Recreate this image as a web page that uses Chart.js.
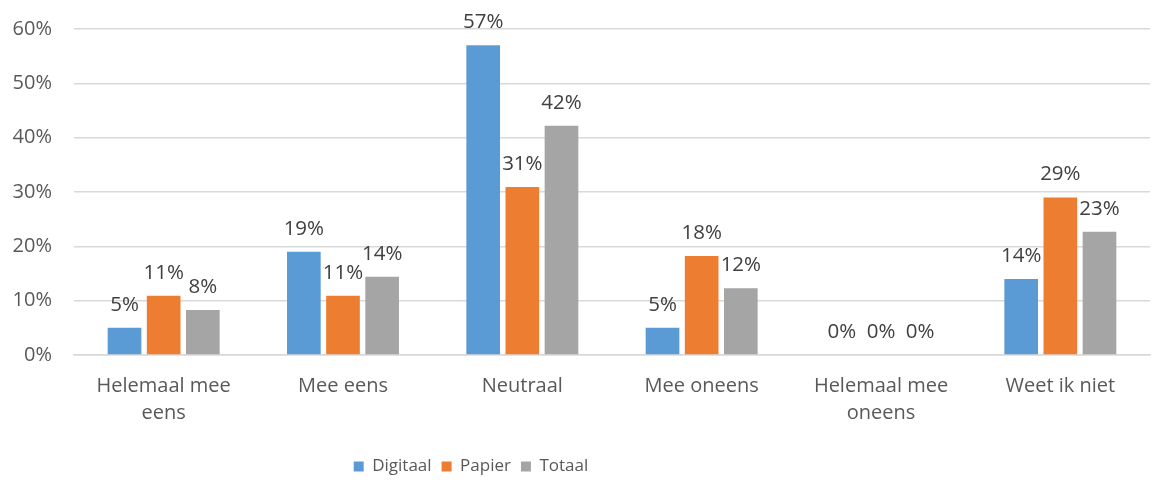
<!DOCTYPE html>
<html>
<head>
<meta charset="utf-8">
<script src="https://cdn.jsdelivr.net/npm/chart.js@4"></script>
<style>
  html, body { margin: 0; padding: 0; background: #fff; }
  #wrap { width: 1154px; height: 482px; }
</style>
</head>
<body>
<div id="wrap"><canvas id="chart" width="1154" height="482"></canvas></div>
<script>
const categories = [["Helemaal mee", "eens"], "Mee eens", "Neutraal", "Mee oneens", ["Helemaal mee", "oneens"], "Weet ik niet"];
const digitaal = [5, 19, 57, 5, 0, 14];
const papier = [10.9, 10.9, 30.9, 18.2, 0, 29];
const totaal = [8.3, 14.4, 42.2, 12.3, 0, 22.7];
const yTicks = [0, 10, 20, 30, 40, 50, 60];

const fontFamily = "'Open Sans', 'DejaVu Sans', sans-serif";
const textColor = "#595959";

// labels above each bar
const barLabels = {
    id: "barLabels",
    afterDatasetsDraw(chart) {
        const ctx = chart.ctx;
        ctx.save();
        ctx.font = "20.5px " + fontFamily;
        ctx.fillStyle = "#404040";
        ctx.textAlign = "center";
        ctx.textBaseline = "alphabetic";
        chart.data.datasets.forEach((ds, i) => {
            chart.getDatasetMeta(i).data.forEach((bar, j) => {
                ctx.fillText(Math.round(ds.data[j]) + "%", bar.x, bar.y - 17);
            });
        });
        ctx.restore();
    }
};

// legend sits left of centre in the original
const legendShift = {
    id: "legendShift",
    afterLayout(chart) {
        const lg = chart.legend;
        lg.left -= 104;
        lg.right -= 104;
        lg.top += 3;
        lg.bottom += 3;
    }
};

new Chart(document.getElementById("chart"), {
    type: "bar",
    data: {
        labels: categories,
        datasets: [
            { label: "Digitaal", data: digitaal, backgroundColor: "#5B9BD5" },
            { label: "Papier", data: papier, backgroundColor: "#ED7D31" },
            { label: "Totaal", data: totaal, backgroundColor: "#A5A5A5" }
        ]
    },
    options: {
        responsive: false,
        animation: false,
        categoryPercentage: 0.655,
        barPercentage: 0.86,
        layout: { padding: { top: 29, right: 4, left: 0, bottom: 0 } },
        plugins: {
            legend: {
                position: "bottom",
                labels: {
                    boxWidth: 10,
                    boxHeight: 10,
                    padding: 10,
                    color: textColor,
                    font: { family: fontFamily, size: 17 }
                }
            },
            tooltip: { enabled: false }
        },
        scales: {
            x: {
                grid: { display: false, drawTicks: false },
                border: { color: "#d9d9d9", width: 1.5 },
                ticks: {
                    color: textColor,
                    padding: 18,
                    maxRotation: 0,
                    autoSkip: false,
                    font: { family: fontFamily, size: 20, lineHeight: 1.35 }
                },
                afterFit(scale) { scale.height = 90; }
            },
            y: {
                min: 0,
                max: 60,
                afterBuildTicks(scale) { scale.ticks = yTicks.map(v => ({ value: v })); },
                afterFit(scale) { scale.width = 74; },
                grid: { color: "#d9d9d9", lineWidth: 1.5, drawTicks: true, tickLength: 18, tickColor: "rgba(0,0,0,0)" },
                border: { display: false },
                ticks: {
                    color: textColor,
                    padding: 4,
                    font: { family: fontFamily, size: 20 },
                    callback: v => v + "%"
                }
            }
        }
    },
    plugins: [barLabels, legendShift]
});
</script>
</body>
</html>
